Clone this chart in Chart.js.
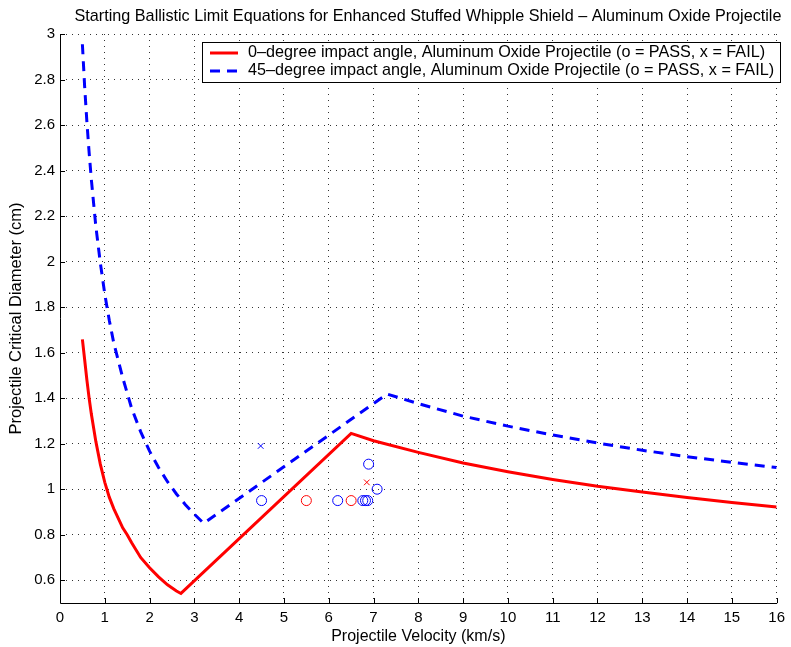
<!DOCTYPE html>
<html>
<head>
<meta charset="utf-8">
<script src="https://cdn.jsdelivr.net/npm/chart.js@4.4.1/dist/chart.umd.min.js"></script>
<style>
  html, body { margin: 0; padding: 0; background: #ffffff; }
  canvas { display: block; }
</style>
</head>
<body>
<canvas id="chart" width="791" height="647"></canvas>
<script>
const FONT = '"Liberation Sans", Arial, Helvetica, sans-serif';

const chartTitle = 'Starting Ballistic Limit Equations for Enhanced Stuffed Whipple Shield \u2013 Aluminum Oxide Projectile';
const xAxisLabel = 'Projectile Velocity (km/s)';
const yAxisLabel = 'Projectile Critical Diameter (cm)';

const velocityTicks = [0, 1, 2, 3, 4, 5, 6, 7, 8, 9, 10, 11, 12, 13, 14, 15, 16];
const diameterTicks = [0.6, 0.8, 1.0, 1.2, 1.4, 1.6, 1.8, 2.0, 2.2, 2.4, 2.6, 2.8, 3.0];
const diameterTickText = ['0.6', '0.8', '1', '1.2', '1.4', '1.6', '1.8', '2', '2.2', '2.4', '2.6', '2.8', '3'];

// 0-degree impact angle ballistic limit curve
const velocity0 = [0.5, 0.55, 0.6, 0.65, 0.7, 0.8, 0.9, 1.0, 1.1, 1.2, 1.4, 1.5, 1.6, 1.8, 2.0, 2.2, 2.4, 2.6, 2.7,
                   6.5, 7, 8, 9, 10, 11, 12, 13, 14, 15, 16];
const diameter0 = [1.658, 1.57, 1.48, 1.40, 1.33, 1.21, 1.11, 1.03, 0.965, 0.915, 0.83, 0.80, 0.765, 0.70, 0.655, 0.615, 0.58, 0.553, 0.542,
                   1.245, 1.213, 1.162, 1.115, 1.077, 1.043, 1.013, 0.988, 0.964, 0.942, 0.922];

// 45-degree impact angle ballistic limit curve
const velocity45 = [0.5, 0.55, 0.6, 0.65, 0.7, 0.8, 0.9, 1.0, 1.1, 1.2, 1.4, 1.6, 1.8, 2.0, 2.2, 2.4, 2.6, 2.8, 3.0, 3.21,
                    7.3, 8, 9, 10, 11, 12, 13, 14, 15, 16];
const diameter45 = [2.955, 2.77, 2.615, 2.48, 2.36, 2.155, 1.995, 1.857, 1.742, 1.643, 1.49, 1.355, 1.253, 1.167, 1.095, 1.033, 0.979, 0.932, 0.89, 0.85,
                    1.418, 1.376, 1.321, 1.277, 1.238, 1.203, 1.171, 1.143, 1.118, 1.095];

// Test shots
const pass0Velocity = [5.5, 6.5];
const pass0Diameter = [0.95, 0.95];
const fail0Velocity = [6.85];
const fail0Diameter = [1.03];
const pass45Velocity = [4.5, 6.2, 6.76, 6.82, 6.87, 6.89, 7.08];
const pass45Diameter = [0.95, 0.95, 0.95, 0.95, 0.95, 1.11, 1.0];
const fail45Velocity = [4.48];
const fail45Diameter = [1.19];

const legendLabels = [
  '0\u2013degree impact angle, Aluminum Oxide Projectile (o = PASS, x = FAIL)',
  '45\u2013degree impact angle, Aluminum Oxide Projectile (o = PASS, x = FAIL)'
];

const RED = '#ff0000';
const BLUE = '#0000ff';
const DASH = [10, 7];

const toPoints = (xs, ys) => xs.map((x, i) => ({ x: x, y: ys[i] }));

// Title drawn above the plot box
const titlePlugin = {
  id: 'plotTitle',
  afterDraw(chart) {
    const ctx = chart.ctx;
    ctx.save();
    ctx.fillStyle = '#000';
    ctx.font = '16.2px ' + FONT;
    ctx.textAlign = 'center';
    ctx.textBaseline = 'middle';
    ctx.fillText(chartTitle, 428, 17);
    ctx.restore();
  }
};

// Solid left/bottom axes with inward tick marks
const axesPlugin = {
  id: 'axesFrame',
  afterDatasetsDraw(chart) {
    const { ctx, chartArea: a, scales } = chart;
    ctx.save();
    ctx.strokeStyle = '#000';
    ctx.lineWidth = 1;
    ctx.beginPath();
    ctx.moveTo(a.left + 0.5, a.top);
    ctx.lineTo(a.left + 0.5, a.bottom + 0.5);
    ctx.lineTo(a.right + 0.5, a.bottom + 0.5);
    velocityTicks.forEach(v => {
      const px = Math.round(scales.x.getPixelForValue(v)) + 0.5;
      ctx.moveTo(px, a.bottom);
      ctx.lineTo(px, a.bottom - 5);
    });
    diameterTicks.forEach(d => {
      const py = Math.round(scales.y.getPixelForValue(d)) + 0.5;
      ctx.moveTo(a.left, py);
      ctx.lineTo(a.left + 5, py);
    });
    ctx.stroke();
    ctx.restore();
  }
};

// Boxed legend in the upper right of the plot
const legendPlugin = {
  id: 'boxedLegend',
  afterDraw(chart) {
    const ctx = chart.ctx;
    const box = { x: 202, y: 42, w: 578, h: 40 };
    const rows = [
      { label: legendLabels[0], color: RED, dash: [] , y: 53 },
      { label: legendLabels[1], color: BLUE, dash: DASH, y: 71 }
    ];
    ctx.save();
    ctx.fillStyle = '#fff';
    ctx.fillRect(box.x, box.y, box.w, box.h);
    ctx.strokeStyle = '#000';
    ctx.lineWidth = 1;
    ctx.strokeRect(box.x + 0.5, box.y + 0.5, box.w, box.h);
    rows.forEach(r => {
      ctx.strokeStyle = r.color;
      ctx.lineWidth = 3;
      ctx.setLineDash(r.dash);
      ctx.beginPath();
      ctx.moveTo(210, r.y);
      ctx.lineTo(238, r.y);
      ctx.stroke();
      ctx.setLineDash([]);
      ctx.fillStyle = '#000';
      ctx.font = '16.2px ' + FONT;
      ctx.textAlign = 'left';
      ctx.textBaseline = 'middle';
      ctx.fillText(r.label, 248, r.y);
    });
    ctx.restore();
  }
};

const gridStyle = { color: 'rgba(0,0,0,0.8)', lineWidth: 1, drawTicks: false };
const tickFont = { family: FONT, size: 15 };

new Chart(document.getElementById('chart'), {
  type: 'scatter',
  data: {
    datasets: [
      {
        label: legendLabels[0],
        data: toPoints(velocity0, diameter0),
        showLine: true,
        borderColor: RED,
        borderWidth: 3,
        pointRadius: 0,
        tension: 0,
        fill: false,
        order: 5
      },
      {
        label: legendLabels[1],
        data: toPoints(velocity45, diameter45),
        showLine: true,
        borderColor: BLUE,
        borderWidth: 3,
        borderDash: DASH,
        pointRadius: 0,
        tension: 0,
        fill: false,
        order: 6
      },
      {
        label: 'pass0',
        data: toPoints(pass0Velocity, pass0Diameter),
        pointStyle: 'circle',
        pointRadius: 5,
        borderColor: RED,
        backgroundColor: 'rgba(0,0,0,0)',
        borderWidth: 1,
        order: 1
      },
      {
        label: 'fail0',
        data: toPoints(fail0Velocity, fail0Diameter),
        pointStyle: 'crossRot',
        pointRadius: 4,
        borderColor: RED,
        borderWidth: 1,
        order: 1
      },
      {
        label: 'pass45',
        data: toPoints(pass45Velocity, pass45Diameter),
        pointStyle: 'circle',
        pointRadius: 5,
        borderColor: BLUE,
        backgroundColor: 'rgba(0,0,0,0)',
        borderWidth: 1,
        order: 1
      },
      {
        label: 'fail45',
        data: toPoints(fail45Velocity, fail45Diameter),
        pointStyle: 'crossRot',
        pointRadius: 4,
        borderColor: BLUE,
        borderWidth: 1,
        order: 1
      }
    ]
  },
  options: {
    responsive: false,
    animation: false,
    devicePixelRatio: 1,
    layout: { padding: { left: 0, top: 34, right: 11, bottom: 0 } },
    plugins: {
      legend: { display: false },
      title: { display: false },
      tooltip: { enabled: false }
    },
    scales: {
      x: {
        type: 'linear',
        position: 'bottom',
        min: 0,
        max: 16,
        afterBuildTicks: s => { s.ticks = velocityTicks.map(v => ({ value: v })); },
        afterFit: s => { s.height = 44; },
        ticks: { font: tickFont, color: '#000', padding: 6, maxRotation: 0, autoSkip: false,
                 callback: v => String(v) },
        grid: gridStyle,
        border: { display: false, dash: [1, 5] },
        title: { display: true, text: xAxisLabel, color: '#000',
                 font: { family: FONT, size: 16 }, padding: { top: 0, bottom: 1 } }
      },
      y: {
        type: 'linear',
        position: 'left',
        min: 0.5,
        max: 3,
        afterBuildTicks: s => { s.ticks = diameterTicks.map(v => ({ value: v })); },
        afterFit: s => { s.width = 60; },
        ticks: { font: tickFont, color: '#000', padding: 5, autoSkip: false,
                 callback: (v) => diameterTickText[diameterTicks.findIndex(t => Math.abs(t - v) < 1e-9)] },
        grid: gridStyle,
        border: { display: false, dash: [1, 5] },
        title: { display: true, text: yAxisLabel, color: '#000',
                 font: { family: FONT, size: 16.5 }, padding: { top: 7, bottom: 0 } }
      }
    }
  },
  plugins: [axesPlugin, legendPlugin, titlePlugin]
});
</script>
</body>
</html>
